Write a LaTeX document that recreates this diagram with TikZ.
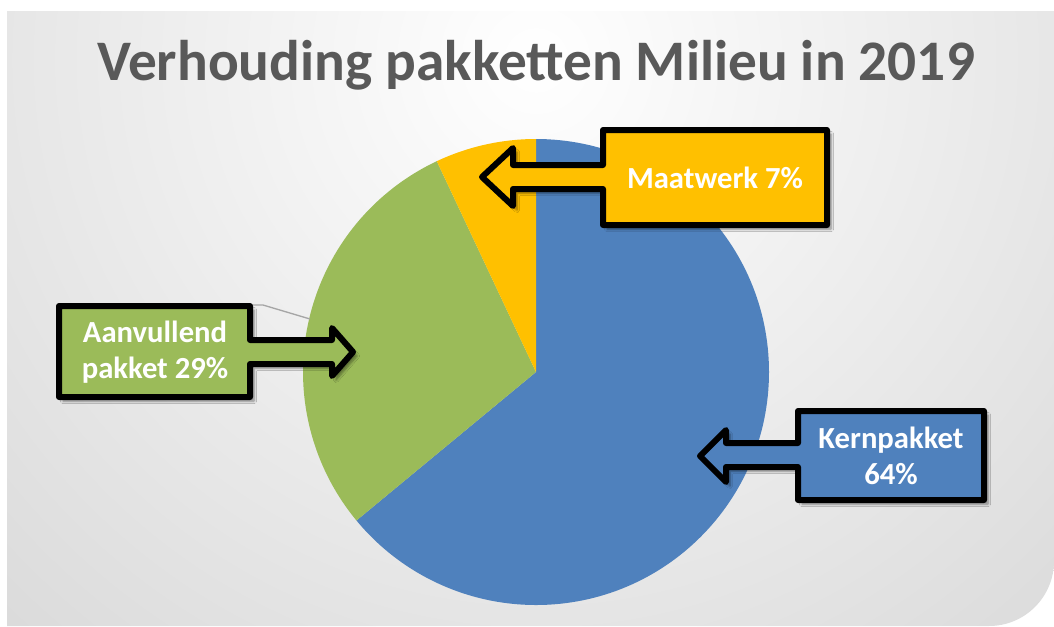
\documentclass[tikz,border=0pt]{standalone}
\usepackage{fontspec}
\setmainfont{Carlito}
\usetikzlibrary{shadows.blur}
\definecolor{kernblue}{HTML}{4F81BD}
\definecolor{aanvgreen}{HTML}{9BBB59}
\definecolor{maatyellow}{HTML}{FFC000}
\definecolor{titlegray}{HTML}{595959}
\tikzset{
  callout/.style={line width=4.5pt, line join=round, draw=black,
    blur shadow={shadow xshift=3pt, shadow yshift=-3pt, shadow opacity=45, shadow blur steps=6}},
  labeltext/.style={text=white, font=\bfseries\fontsize{23}{27}\selectfont, align=center, inner sep=0pt}
}

\begin{document}
\begin{tikzpicture}[x=0.75pt, y=-0.75pt]
			%%%%% START %%%%%
			\useasboundingbox (0, 0) rectangle (1054, 626);
			
			% background
			\begin{scope}
				\clip (7, 11) -- (1054, 11) -- (1054, 561) arc (0:90:65) -- (7, 626) -- cycle;
				\shade[inner color=white, outer color=black!22] (536, 60) circle (1200);
			\end{scope}
			
			\node[font=\bfseries\fontsize{43}{48}\selectfont, text=titlegray] (title) at (536, 65) {Verhouding pakketten Milieu in 2019};
			
			% pie
			\coordinate (pie) at (536, 372);
			\fill[kernblue] (pie) -- ++(-90:233) arc[start angle=-90, end angle=140.4, radius=233] -- cycle;
			\fill[aanvgreen] (pie) -- ++(140.4:233) arc[start angle=140.4, end angle=244.8, radius=233] -- cycle;
			\fill[maatyellow] (pie) -- ++(244.8:233) arc[start angle=244.8, end angle=270, radius=233] -- cycle;
			
			% leader line
			\draw[line width=1pt, color=black!35] (250, 305) -- (263, 305) -- (310, 319);
			
			% callouts
			\draw[callout, fill=maatyellow] (603, 130) -- (827, 130) -- (827, 225) -- (603, 225) -- (603, 189) -- (513, 189) -- (513, 206) -- (482, 177) -- (513, 148) -- (513, 165) -- (603, 165) -- cycle;
			\node[labeltext] (maatwerk) at (715, 178) {Maatwerk 7\%};
			
			\draw[callout, fill=aanvgreen] (59, 306) -- (250, 306) -- (250, 340) -- (332, 340) -- (332, 328) -- (353, 352) -- (332, 376) -- (332, 364) -- (250, 364) -- (250, 397) -- (59, 397) -- cycle;
			\node[labeltext] (aanvullend) at (155, 352) {Aanvullend\\pakket 29\%};
			
			\draw[callout, fill=kernblue] (798, 411) -- (984, 411) -- (984, 500) -- (798, 500) -- (798, 467) -- (726, 467) -- (726, 482) -- (700, 456) -- (726, 430) -- (726, 443) -- (798, 443) -- cycle;
			\node[labeltext] (kernpakket) at (891, 456) {Kernpakket\\64\%};
			
			%%%%% END %%%%%
\end{tikzpicture}
\end{document}
